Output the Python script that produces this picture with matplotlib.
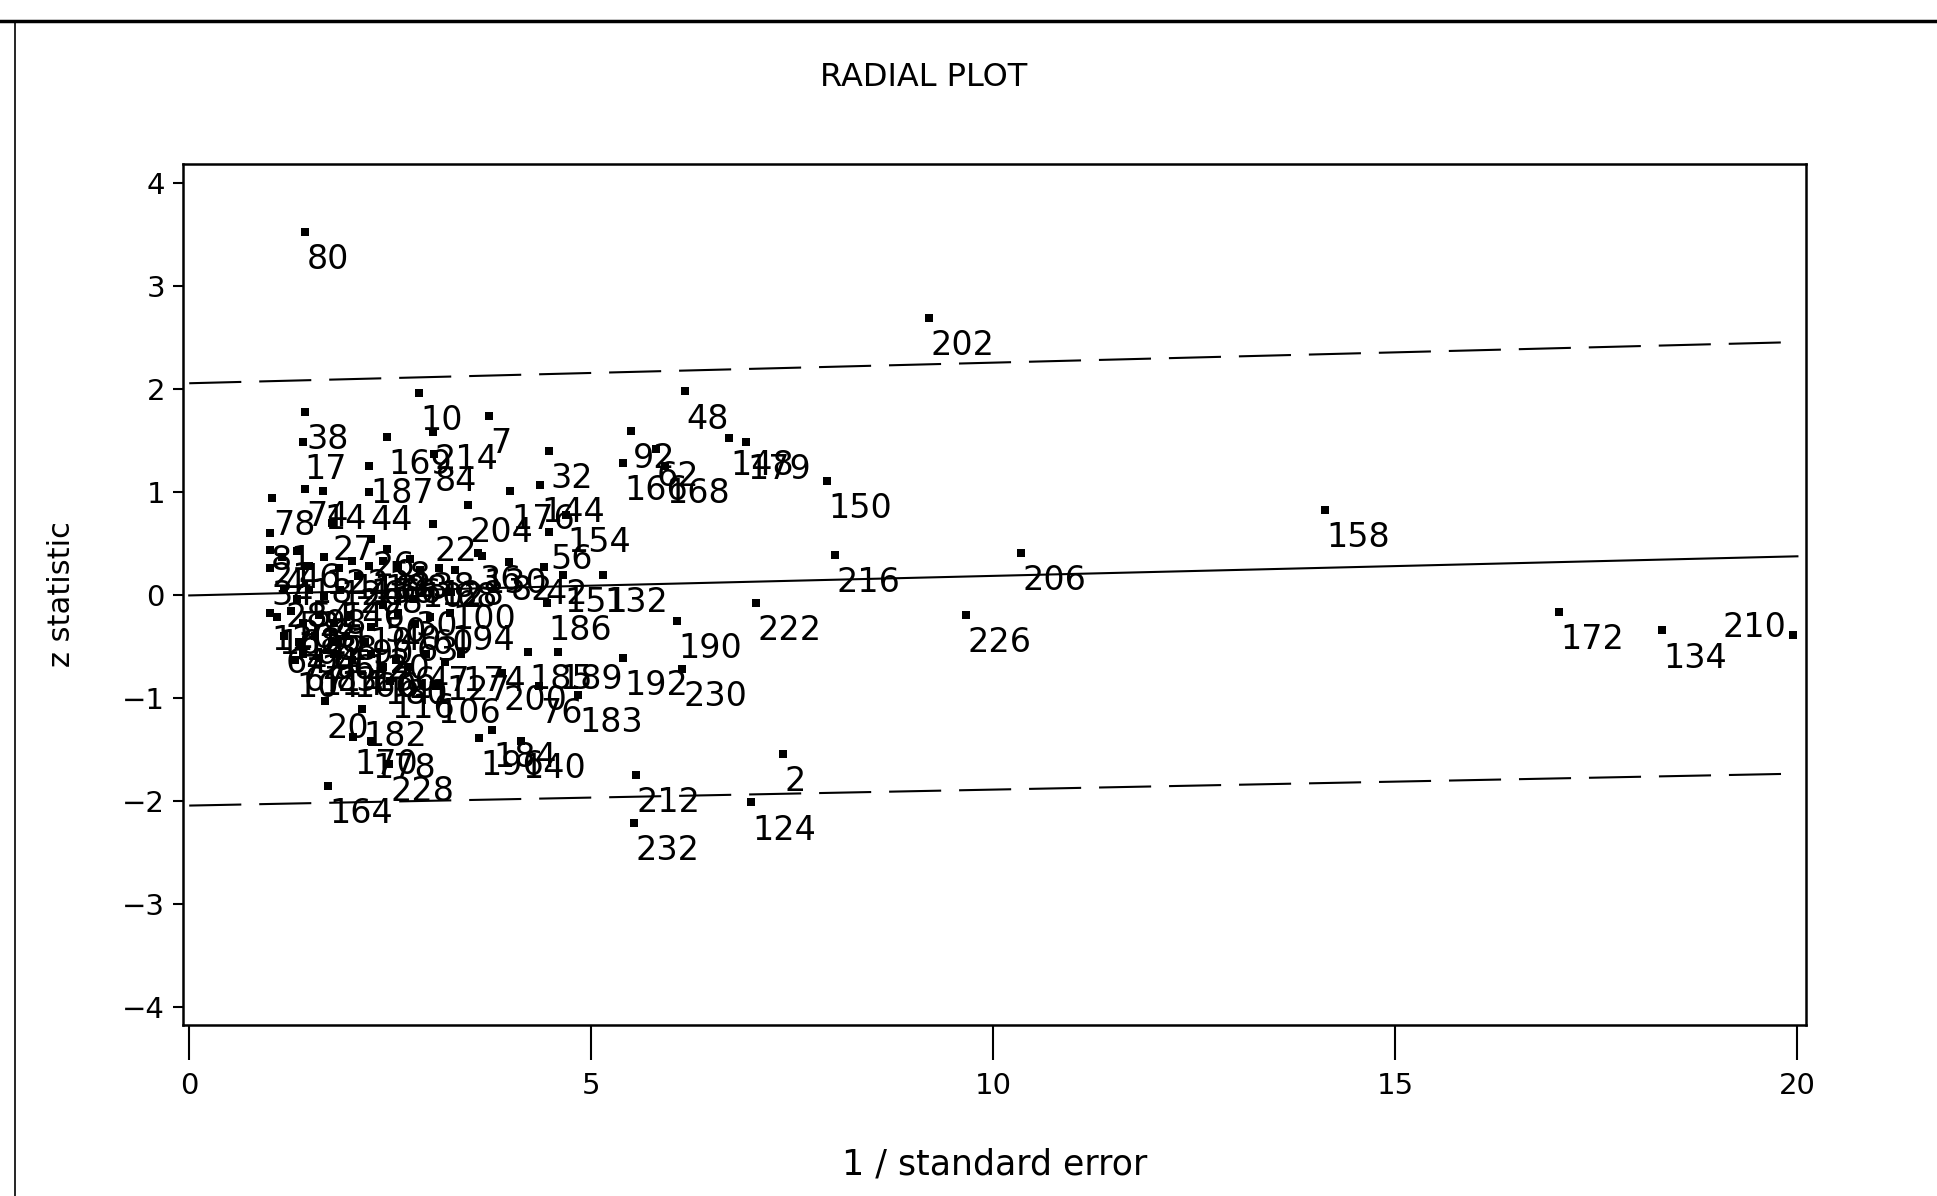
import matplotlib
matplotlib.use('Agg')
import matplotlib.pyplot as plt
from matplotlib import font_manager
from matplotlib.lines import Line2D

# valores: 1/error estandar, estadistico z y etiqueta
inv_se = [1.44, 9.20, 6.16, 2.86, 3.73, 1.44, 1.41, 2.46, 3.03, 3.04,
          2.24, 4.47, 3.99, 4.36, 3.47, 4.68, 4.47, 3.03, 5.50, 5.40,
          5.80, 5.92, 6.71, 6.93, 7.93, 14.13, 8.03, 10.35, 9.66, 7.05,
          6.07, 5.39, 6.13, 17.04, 18.31, 19.95, 7.39, 6.99, 5.55, 5.53,
          1.72, 2.49,
          4.84, 4.35, 3.89, 4.21, 4.58, 4.45, 3.07, 3.77, 4.12, 3.60,
          4.65, 5.15, 3.64, 3.98, 4.41, 3.30, 3.26, 3.24, 2.81, 2.10,
          3.38, 1.41, 1.80, 1.09, 1.69, 2.15, 2.04, 2.26, 2.50, 1.03,
          1.44, 1.66, 2.24, 1.00, 1.77, 2.26, 2.46, 3.59,
          1.00, 1.00, 1.15, 1.34, 1.49, 1.67, 1.86, 2.03, 2.23, 2.41,
          2.60, 2.75, 2.87, 3.10, 1.00, 1.18, 1.34, 1.49, 1.67, 1.87,
          1.26, 1.41, 1.61, 1.80, 1.98, 1.18, 1.37, 1.57, 1.77, 1.95,
          2.18, 1.31, 1.61, 2.03, 2.26, 2.41, 2.57, 2.72, 2.95, 3.18,
          2.26, 3.00, 2.60, 2.80, 2.41]
z_stat = [3.53, 2.69, 1.98, 1.97, 1.74, 1.78, 1.49, 1.54, 1.59, 1.37,
          1.26, 1.40, 1.01, 1.07, 0.88, 0.78, 0.62, 0.69, 1.60, 1.29,
          1.42, 1.26, 1.53, 1.49, 1.11, 0.83, 0.39, 0.41, -0.19, -0.07,
          -0.25, -0.61, -0.71, -0.16, -0.34, -0.38, -1.54, -2.01, -1.74, -2.21,
          -1.85, -1.64,
          -0.97, -0.88, -0.75, -0.55, -0.55, -0.07, -0.88, -1.31, -1.41, -1.38,
          0.20, 0.20, 0.38, 0.32, 0.28, 0.25, 0.03, -0.17, -0.28, 0.19,
          -0.57, -0.57, -0.57, -0.21, -1.02, -1.10, -1.37, -1.41, -0.83, 0.95,
          1.03, 1.01, 1.00, 0.61, 0.70, 0.55, 0.45, 0.41,
          0.44, 0.27, 0.37, 0.43, 0.29, 0.37, 0.27, 0.33, 0.29, 0.33,
          0.29, 0.35, 0.25, 0.27, -0.17, 0.05, -0.03, 0.05, -0.01, 0.05,
          -0.15, -0.27, -0.19, -0.27, -0.19, -0.39, -0.45, -0.39, -0.45, -0.39,
          -0.45, -0.63, -0.61, -0.63, -0.57, -0.69, -0.63, -0.69, -0.57, -0.65,
          -0.31, -0.21, -0.17, -0.03, -0.09]
labels = ['80', '202', '48', '10', '7', '38', '17', '169', '214', '84',
          '187', '32', '176', '144', '204', '154', '56', '22', '92', '166',
          '62', '168', '148', '179', '150', '158', '216', '206', '226', '222',
          '190', '192', '230', '172', '134', '210', '2', '124', '212', '232',
          '164', '228',
          '183', '76', '200', '185', '189', '186', '106', '184', '140', '196',
          '151', '132', '130', '82', '42', '68', '100', '194', '63', '208',
          '174', '67', '83', '162', '20', '182', '170', '178', '116', '78',
          '74', '14', '44', '81', '27', '26', '58', '36',
          '21', '34', '4', '46', '18', '122', '126', '118', '156', '198',
          '66', '138', '102', '128', '12', '28', '52', '54', '98', '146',
          '108', '142', '86', '88', '110', '64', '72', '94', '96', '112',
          '120', '104', '114', '160', '136', '180', '6', '41', '47', '127',
          '90', '60', '40', '30', '50']

# linea ajustada y banda de +/- 2 (extremos en x=0 y x=20)
line_x = [0, 20]
fit_y = [0.0, 0.38]
upper_y = [2.06, 2.46]
lower_y = [-2.04, -1.73]

x_ticks = [0, 5, 10, 15, 20]
y_ticks = [-4, -3, -2, -1, 0, 1, 2, 3, 4]

names = {f.name for f in font_manager.fontManager.ttflist}
narrow = 'Liberation Sans Narrow' if 'Liberation Sans Narrow' in names else 'DejaVu Sans'
tick_size = 24 if narrow != 'DejaVu Sans' else 21

fig = plt.figure(figsize=(19.37, 11.96), dpi=100)
ax = fig.add_axes([0.0945, 0.143, 0.838, 0.720])

ax.plot(line_x, fit_y, color='black', lw=1.5)
ax.plot(line_x, upper_y, color='black', lw=1.5, linestyle=(0, (25, 8.6)))
ax.plot(line_x, lower_y, color='black', lw=1.5, linestyle=(0, (25, 8.6)))

ax.scatter(inv_se, z_stat, marker='s', s=32, c='black', linewidths=0, zorder=3)

# etiquetas de cada punto, abajo a la derecha
for x, y, lab in zip(inv_se, z_stat, labels):
    if lab == '210':
        ax.annotate(lab, (x, y), xytext=(-5, -2), textcoords='offset points',
                    ha='right', va='baseline', fontsize=24, family='DejaVu Sans')
    else:
        ax.annotate(lab, (x, y), xytext=(1, -8), textcoords='offset points',
                    ha='left', va='top', fontsize=24, family='DejaVu Sans')

ax.set_xlim(-0.077, 20.11)
ax.set_ylim(-4.17, 4.19)
ax.set_xticks(x_ticks)
ax.set_yticks(y_ticks)
ax.set_yticklabels(['\u2212' + str(-t) if t < 0 else str(t) for t in y_ticks])
ax.tick_params(axis='x', direction='out', length=25, width=1.5, pad=9)
ax.tick_params(axis='y', direction='out', length=7, width=1.5, pad=6)
for lab in ax.get_xticklabels() + ax.get_yticklabels():
    lab.set_family(narrow)
    lab.set_fontsize(tick_size)
for sp in ax.spines.values():
    sp.set_linewidth(1.8)

ax.set_xlabel('1 / standard error', fontsize=25, labelpad=34)
ax.set_ylabel('z statistic', fontsize=22, labelpad=33)

fig.text(0.477, 0.935, 'RADIAL PLOT', ha='center', va='center', fontsize=23)

# marco exterior de la pagina
fig.add_artist(Line2D([0, 1], [0.9824, 0.9824], color='black', lw=2.5))
fig.add_artist(Line2D([0.0077, 0.0077], [0, 0.9824], color='black', lw=1.2))

fig.savefig('out.png', dpi=100)
